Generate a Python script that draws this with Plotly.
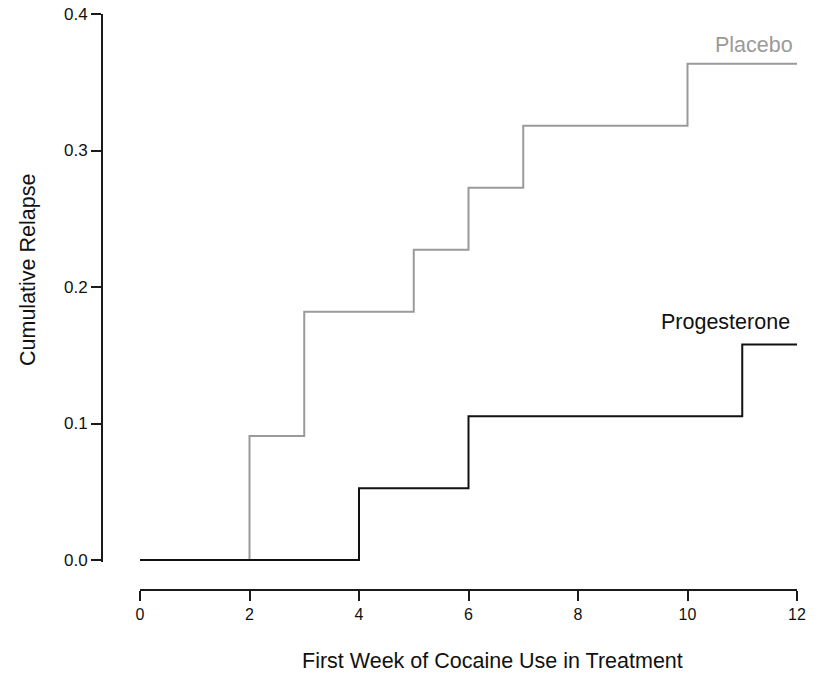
import plotly.graph_objects as go

# Data (Kaplan-Meier style cumulative relapse, step functions)
placebo_weeks = [0, 2, 3, 5, 6, 7, 10, 12]
placebo_relapse = [0.0, 0.0909, 0.1818, 0.2273, 0.2727, 0.3182, 0.3636, 0.3636]
prog_weeks = [0, 4, 6, 11, 12]
prog_relapse = [0.0, 0.0526, 0.1053, 0.1579, 0.1579]

x_ticks = [0, 2, 4, 6, 8, 10, 12]
y_ticks = [0.0, 0.1, 0.2, 0.3, 0.4]
y_tick_labels = ["0.0", "0.1", "0.2", "0.3", "0.4"]

W, H = 818, 673
FONT = "Liberation Sans, Arial, sans-serif"
AXIS_COLOR = "#1a1a1a"
TXT = 21.5

fig = go.Figure()
fig.add_trace(go.Scatter(x=placebo_weeks, y=placebo_relapse, mode="lines",
                         line=dict(shape="hv", color="#9a9a9a", width=2),
                         name="Placebo", showlegend=False))
fig.add_trace(go.Scatter(x=prog_weeks, y=prog_relapse, mode="lines",
                         line=dict(shape="hv", color="#111111", width=2),
                         name="Progesterone", showlegend=False))

# pixel geometry
x0_px, x12_px = 140, 797
y0_px, y04_px = 560, 14
ylow = -0.0015
ypx_per = (y0_px - y04_px) / 0.4
ybot_px = y0_px - ylow * ypx_per

fig.update_layout(
    width=W, height=H, autosize=False,
    margin=dict(l=0, r=0, t=0, b=0, pad=0, autoexpand=False),
    plot_bgcolor="white", paper_bgcolor="white",
    font=dict(family=FONT, color="#111111"),
    xaxis=dict(
        range=[0, 12], domain=[x0_px / W, x12_px / W],
        anchor="free", position=(H - 590) / H, automargin=False,
        tickvals=x_ticks, ticktext=[str(v) for v in x_ticks],
        showgrid=False, zeroline=False,
        showline=True, linecolor=AXIS_COLOR, linewidth=2,
        ticks="outside", ticklen=10, tickwidth=2, tickcolor=AXIS_COLOR,
        tickfont=dict(size=16, family=FONT, color="#111111"),
    ),
    yaxis=dict(
        range=[ylow, 0.4], domain=[(H - ybot_px) / H, (H - y04_px) / H],
        anchor="free", position=102 / W, automargin=False,
        tickvals=y_ticks, ticktext=y_tick_labels,
        showgrid=False, zeroline=False,
        showline=True, linecolor=AXIS_COLOR, linewidth=2,
        ticks="outside", ticklen=10, tickwidth=2, tickcolor=AXIS_COLOR,
        tickfont=dict(size=17, family=FONT, color="#111111"),
    ),
    annotations=[
        dict(text="Placebo", x=12, y=0.377, xref="x", yref="y",
             xanchor="right", yanchor="middle", showarrow=False, xshift=-2,
             font=dict(size=TXT, family=FONT, color="#9a9a9a")),
        dict(text="Progesterone", x=12, y=0.174, xref="x", yref="y",
             xanchor="right", yanchor="middle", showarrow=False, xshift=-5,
             font=dict(size=TXT, family=FONT, color="#111111")),
        dict(text="First Week of Cocaine Use in Treatment", x=492 / W, y=(H - 661) / H,
             xref="paper", yref="paper", xanchor="center", yanchor="middle",
             showarrow=False, font=dict(size=TXT, family=FONT, color="#111111")),
        dict(text="Cumulative Relapse", x=28 / W, y=(H - 270) / H,
             xref="paper", yref="paper", xanchor="center", yanchor="middle",
             textangle=-90, showarrow=False,
             font=dict(size=TXT, family=FONT, color="#111111")),
    ],
)

fig.write_html(
    "out.html",
    config={"displayModeBar": False},
    post_script="document.body.style.margin='0';document.body.style.overflow='hidden';",
)
